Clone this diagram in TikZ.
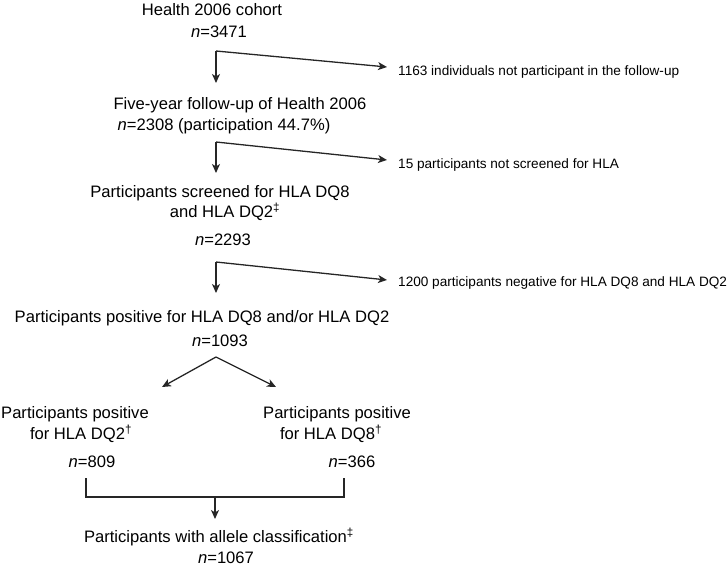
\documentclass[tikz,border=0pt]{standalone}
\usepackage{fontspec}
\setmainfont{Liberation Sans}
\usetikzlibrary{arrows.meta}
\tikzset{
  big/.style={inner sep=0pt, font=\fontsize{16.6}{20}\selectfont},
  small/.style={inner sep=0pt, anchor=west, font=\fontsize{13.6}{16}\selectfont},
  conn/.style={line width=1.3pt, draw=black!85},
  arr/.style={conn, -{Stealth[length=9pt,width=8pt,inset=2.5pt]}}
}
\begin{document}
\begin{tikzpicture}[x=1pt,y=-1pt]
\useasboundingbox (0,0) rectangle (728,567);
% texts
\node[big] (h1) at (212,10) {Health 2006 cohort};
\node[big] (h1n) at (219,32) {\textit{n}=3471};
\node[big] (f1) at (240,105) {Five-year follow-up of Health 2006};
\node[big] (f1n) at (224,126) {\textit{n}=2308 (participation 44.7\%)};
\node[big] (s1) at (220,193) {Participants screened for HLA DQ8};
\node[big] (s2) at (225,212) {and HLA DQ2\textsuperscript{‡}};
\node[big] (s3) at (223,240) {\textit{n}=2293};
\node[big] (p1) at (202,318) {Participants positive for HLA DQ8 and/or HLA DQ2};
\node[big] (p1n) at (220,341) {\textit{n}=1093};
\node[big] (L1) at (75,414) {Participants positive};
\node[big] (L2) at (81,434) {for HLA DQ2\textsuperscript{†}};
\node[big] (Ln) at (92,462) {\textit{n}=809};
\node[big] (R1) at (337,414) {Participants positive};
\node[big] (R2) at (331,434) {for HLA DQ8\textsuperscript{†}};
\node[big] (Rn) at (352,462) {\textit{n}=366};
\node[big] (a1) at (219,537) {Participants with allele classification\textsuperscript{‡}};
\node[big] (a1n) at (226,558) {\textit{n}=1067};
\node[small] (x1) at (398,72) {1163 individuals not participant in the follow-up};
\node[small] (x2) at (398,165) {15 participants not screened for HLA};
\node[small] (x3) at (398,283) {1200 participants negative for HLA DQ8 and HLA DQ2};
% arrow 1
\coordinate (b1) at (216,51);
\coordinate (v1) at (216,83);
\coordinate (e1) at (387,67);
\draw[arr] (b1) -- (v1);
\draw[arr] (b1) -- (e1);
% arrow 2
\coordinate (b2) at (216,142);
\coordinate (v2) at (216,173);
\coordinate (e2) at (387,160);
\draw[arr] (b2) -- (v2);
\draw[arr] (b2) -- (e2);
% arrow 3
\coordinate (b3) at (216,262);
\coordinate (v3) at (216,293);
\coordinate (e3) at (387,280);
\draw[arr] (b3) -- (v3);
\draw[arr] (b3) -- (e3);
% split
\coordinate (ap) at (216,357);
\coordinate (tl) at (162,387);
\coordinate (tr) at (276,387);
\draw[arr] (ap) -- (tl);
\draw[arr] (ap) -- (tr);
% bracket
\coordinate (bl) at (86,478);
\coordinate (br) at (344,478);
\coordinate (bm) at (215,497);
\coordinate (bt) at (215,519);
\draw[conn] (bl) |- (bm) -| (br);
\draw[arr] (bm) -- (bt);
\end{tikzpicture}
\end{document}
